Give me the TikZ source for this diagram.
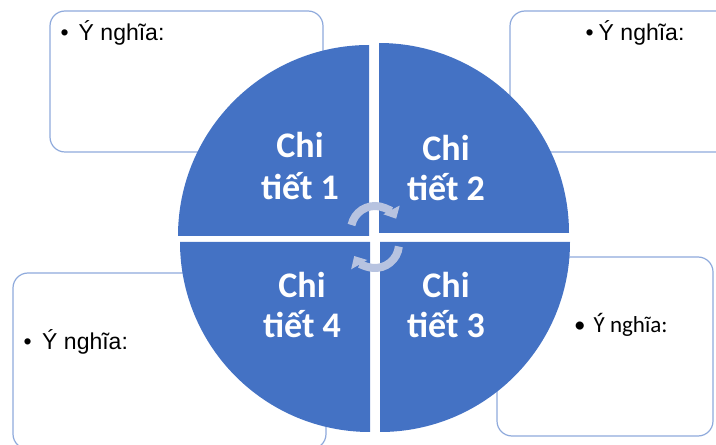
\documentclass[tikz,border=0pt]{standalone}
\usepackage{fontspec}
\setmainfont{Liberation Sans}
\newfontfamily\carlito{Carlito}
\usetikzlibrary{arrows.meta}
\definecolor{pieblue}{HTML}{4472C4}
\definecolor{boxline}{HTML}{8FAADC}
\definecolor{cyccol}{HTML}{B7C3E0}
\tikzset{
  notebox/.style={draw=boxline, line width=1.2pt, rounded corners=15pt, fill=white},
  sector/.style={fill=pieblue},
  qtext/.style={text=white, font=\carlito\bfseries\fontsize{36}{42}\selectfont, anchor=base, inner sep=0pt},
  notetext/.style={font=\fontsize{23}{27}\selectfont, anchor=base west, inner sep=0pt},
  notetextc/.style={font=\carlito\fontsize{23}{27}\selectfont, anchor=base west, inner sep=0pt},
  cycarrow/.style={draw=cyccol, line width=8pt, -{Triangle[width=18pt,length=10pt]}}
}
\begin{document}
\begin{tikzpicture}[x=1pt,y=1pt]
\useasboundingbox (0,0) rectangle (716,445);
\clip (0,0) rectangle (716,445);
% note boxes (behind the pie)
\draw[notebox] (50,293) rectangle (323,434);
\draw[notebox] (510,293) rectangle (740,434);
\draw[notebox] (13,-4) rectangle (326,172);
\draw[notebox] (497,9) rectangle (713,188);
% box texts
\node[notetext] (n1) at (60.5,404) {•\hspace{10pt}Ý nghĩa:};
\node[notetext] (n2) at (585.5,404) {•\hspace{5pt}Ý nghĩa:};
\node[notetext] (n4) at (23.5,95.7) {•\hspace{10.5pt}Ý nghĩa:};
\node[notetextc] (n3) at (574,112.3) {•\hspace{8pt}Ý nghĩa:};
% pie quadrants
\coordinate (c1) at (369,209);
\coordinate (c2) at (379,212);
\coordinate (c4) at (370,203);
\coordinate (c3) at (380,203);
\fill[sector] (c1) -- ++(180:191) arc[start angle=180, end angle=90, radius=191] -- cycle;
\fill[sector] (c2) -- ++(90:190) arc[start angle=90, end angle=0, radius=190] -- cycle;
\fill[sector] (c3) -- ++(0:190) arc[start angle=0, end angle=-90, radius=190] -- cycle;
\fill[sector] (c4) -- ++(-90:190) arc[start angle=-90, end angle=-180, radius=190] -- cycle;
% quadrant labels
\node[qtext] (q1a) at (300,287) {Chi};
\node[qtext] (q1b) at (300,245) {tiết 1};
\node[qtext] (q2a) at (446,284) {Chi};
\node[qtext] (q2b) at (446,244) {tiết 2};
\node[qtext] (q4a) at (302,147) {Chi};
\node[qtext] (q4b) at (302,107) {tiết 4};
\node[qtext] (q3a) at (446,147) {Chi};
\node[qtext] (q3b) at (446,107) {tiết 3};
% cycle arrows
\coordinate (ca) at (375,215);
\coordinate (cb) at (375,201);
\draw[cycarrow] ([shift={(168:24)}]ca) arc[start angle=168, end angle=28, radius=24];
\draw[cycarrow] ([shift={(-6:24)}]cb) arc[start angle=-6, end angle=-150, radius=24];
\end{tikzpicture}
\end{document}
